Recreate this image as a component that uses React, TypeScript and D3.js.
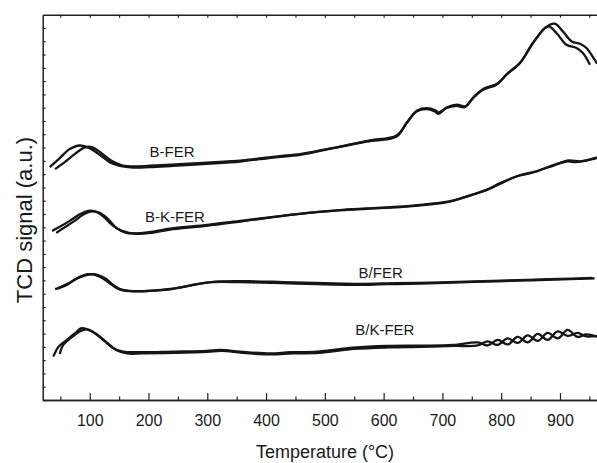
import React, { useRef, useEffect } from 'react';
import * as d3 from 'd3';

// TPD-like TCD traces, two runs per sample, [temperature °C, signal a.u.]
const bFerRun1 = [[32,232.7],[49,241.7],[66,250.7],[83,254.3],[100,251.7],[117,245],[134,237.7],[151,234],[174,232.3],[202,232.7],[242,234],[299,236],[356,238.3],[412,242.3],[458,245],[514,251.7],[571,258.3],[622,263.3],[639,276.7],[656,288.3],[673,290.7],[687,288.3],[693,286],[707,291.7],[724,294],[738,292.7],[752,301.7],[769,310],[792,315],[809,325],[832,336.7],[854,356.7],[880,373.3],[894,366.7],[911,355],[928,351.7],[939,346.7],[951,335]];
const bFerRun2 = [[41,230.7],[58,238],[75,246],[92,252.5],[105,252.5],[120,246.5],[137,239],[155,234.5],[180,233.5],[230,235],[300,237.2],[360,239.5],[420,243.5],[460,246],[520,252.5],[575,259.2],[622,264.3],[640,277.5],[657,289.2],[674,291.5],[688,289.5],[694,287.5],[708,292.5],[725,295],[739,293.5],[753,302.5],[770,311],[793,316],[810,326],[833,337.5],[855,357.5],[875,372],[891,376],[905,368.3],[920,358.3],[934,356],[945,351.7],[959,340],[963,336]];

const bkFerRun1 = [[36,169],[49,173],[66,179],[83,185.5],[97,189],[111,188],[124,183],[138,175],[155,169],[180,166],[208,167.3],[242,170.7],[299,174],[356,178.3],[412,182.7],[458,186],[514,189],[571,191],[628,192.7],[684,195.7],[713,198.3],[741,203.3],[775,210],[798,216.7],[826,223.3],[854,227.3],[882,233.3],[911,238.3],[928,237.7],[945,239.3],[963,241.7]];
const bkFerRun2 = [[43,167],[56,172],[73,178.5],[90,185.5],[104,188.5],[117,187],[131,181],[145,172],[162,167],[190,167],[240,171.5],[300,175],[360,179.3],[420,183.5],[470,187],[530,190],[590,192],[640,193.7],[690,196.7],[720,199.5],[750,205],[780,211],[805,218],[830,224.3],[860,228.5],[890,234.5],[915,239.3],[935,238.5],[963,242.5]];

const bSlashFerRun1 = [[41,110.7],[61,115],[78,121.7],[98,125.7],[117,123.3],[134,116.7],[149,111],[168,109],[202,109],[242,111],[276,115],[310,117.7],[356,117.7],[412,117],[486,115.7],[548,115],[605,115.7],[662,116.3],[718,117.3],[775,118.3],[832,119.3],[888,120.3],[959,121.5]];
const bSlashFerRun2 = [[45,111.5],[65,117],[85,123],[106,125.7],[126,121.7],[140,115],[154,110],[175,108.5],[210,109.5],[250,112],[285,116],[320,118.5],[370,118.7],[430,117.8],[500,116.7],[560,116],[620,116.7],[680,117.3],[740,118.3],[800,119.3],[860,120.3],[920,121.3],[955,122]];

const bkSlashFerRun1 = [[38,43.3],[47,53.3],[61,60],[75,66.7],[86,71.7],[106,67.7],[123,60],[140,51.7],[157,48.3],[185,47.7],[242,48.3],[299,49],[322,50],[356,48.3],[407,46.5],[441,47.7],[486,48.3],[548,52.3],[605,54],[662,54.3],[718,55],[760,57.5],[777,54.5],[794,60],[811,55.5],[828,63],[845,57.5],[862,66],[879,60],[896,68.5],[913,64],[930,67],[945,63.5],[963,64]];
const bkSlashFerRun2 = [[49,46],[55,55],[68,62],[83,68.5],[95,70.5],[110,66.5],[127,58.5],[145,50],[163,46.5],[190,46.5],[245,47],[300,48],[325,49],[360,47],[410,45.5],[445,46.5],[490,47],[550,51],[610,52.5],[665,53],[720,54],[760,54.5],[777,58.5],[794,55],[811,61.5],[828,57],[845,64.5],[862,59],[879,67],[896,61.5],[913,70],[930,63],[945,65.5],[963,63]];

const seriesNames = ['B-FER', 'B-K-FER', 'B/FER', 'B/K-FER'];
const seriesRuns = [[bFerRun1, bFerRun2], [bkFerRun1, bkFerRun2], [bSlashFerRun1, bSlashFerRun2], [bkSlashFerRun1, bkSlashFerRun2]];
// where each name sits, in data coords [temp, signal]
const labelAnchors = [[240, 243.3], [245, 178.3], [595, 122.3], [602, 65]];

const xMajorTicks = [100, 200, 300, 400, 500, 600, 700, 800, 900];
const xMinorTicks = [50, 150, 250, 350, 450, 550, 650, 750, 850, 950];

const App = () => {
  const svgRef = useRef(null);

  useEffect(() => {
    const width = 597, height = 463;
    const left = 42.7, top = 14.7, bottom = 400;
    const font = '"Liberation Sans", Arial, sans-serif';

    const svg = d3.select(svgRef.current)
      .attr('width', width)
      .attr('height', height);
    svg.selectAll('*').remove();

    const x = d3.scaleLinear().domain([20, 963]).range([left, width]);
    const y = d3.scaleLinear().domain([0, 385]).range([bottom, top]);

    svg.append('defs').append('clipPath').attr('id', 'plot-clip')
      .append('rect').attr('x', left).attr('y', top).attr('width', width - left).attr('height', bottom - top);

    const line = d3.line()
      .x(d => x(d[0]))
      .y(d => y(d[1]))
      .curve(d3.curveCatmullRom.alpha(0.5));

    const plot = svg.append('g').attr('clip-path', 'url(#plot-clip)');
    seriesRuns.forEach(runs => {
      runs.forEach(run => {
        plot.append('path')
          .attr('d', line(run))
          .attr('fill', 'none')
          .attr('stroke', '#151515')
          .attr('stroke-width', 2.3)
          .attr('stroke-linejoin', 'round');
      });
    });

    svg.selectAll('.series-label')
      .data(seriesNames)
      .enter()
      .append('text')
      .attr('class', 'series-label')
      .attr('x', (d, i) => x(labelAnchors[i][0]))
      .attr('y', (d, i) => y(labelAnchors[i][1]))
      .attr('text-anchor', 'middle')
      .style('font-family', font)
      .style('font-size', '15px')
      .attr('fill', '#1a1a1a')
      .text(d => d);

    // y ticks: 29 even steps, no labels
    const yTicks = d3.range(0, 29).map(i => i * 385 / 29);

    const styleAxis = g => {
      g.select('.domain').attr('stroke', '#222').attr('stroke-width', 1.5);
      g.selectAll('.tick line').attr('stroke', '#222').attr('stroke-width', 1.2);
    };

    svg.append('g')
      .attr('transform', `translate(0,${bottom})`)
      .call(d3.axisBottom(x).tickValues(xMinorTicks).tickSize(-3.5).tickSizeOuter(0).tickFormat(() => ''))
      .call(styleAxis);

    const xAxis = svg.append('g')
      .attr('transform', `translate(0,${bottom})`)
      .call(d3.axisBottom(x).tickValues(xMajorTicks).tickSize(-7).tickSizeOuter(0).tickPadding(15).tickFormat(d3.format('d')))
      .call(styleAxis);
    xAxis.selectAll('text')
      .style('font-family', font)
      .style('font-size', '16px')
      .attr('fill', '#1a1a1a');

    svg.append('g')
      .attr('transform', `translate(0,${top})`)
      .call(d3.axisTop(x).tickValues(xMajorTicks.concat(xMinorTicks)).tickSize(-3).tickSizeOuter(0).tickFormat(() => ''))
      .call(styleAxis);

    svg.append('g')
      .attr('transform', `translate(${left},0)`)
      .call(d3.axisLeft(y).tickValues(yTicks).tickSize(-3).tickSizeOuter(0).tickFormat(() => ''))
      .call(styleAxis);

    svg.append('text')
      .attr('x', 325)
      .attr('y', 458.3)
      .attr('text-anchor', 'middle')
      .style('font-family', font)
      .style('font-size', '18px')
      .attr('fill', '#1a1a1a')
      .text('Temperature (\u00B0C)');

    svg.append('text')
      .attr('transform', 'translate(32.3,220) rotate(-90)')
      .attr('text-anchor', 'middle')
      .style('font-family', font)
      .style('font-size', '22px')
      .attr('fill', '#1a1a1a')
      .text('TCD signal (a.u.)');
  }, []);

  return (
    <div style={{ position: 'absolute', left: 0, top: 0 }}>
      <svg ref={svgRef} style={{ display: 'block', background: '#fff' }}></svg>
    </div>
  );
};

export default App;
